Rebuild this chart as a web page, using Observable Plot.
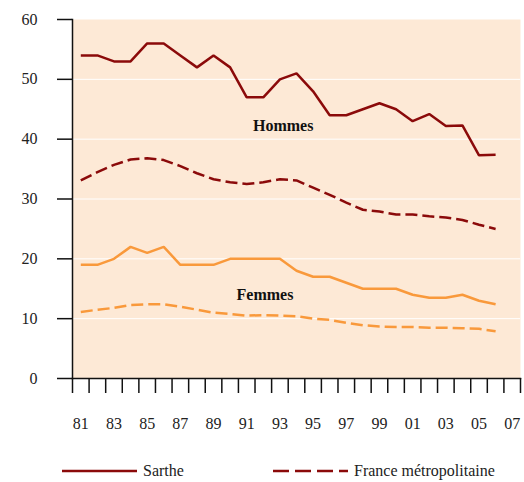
<!DOCTYPE html>
<html><head><meta charset="utf-8">
<script src="https://cdn.jsdelivr.net/npm/d3@7"></script>
<script src="https://cdn.jsdelivr.net/npm/@observablehq/plot@0.6"></script>
<style>
body{margin:0;background:#fff;font-family:"Liberation Serif","Times New Roman",serif;}
#chart{width:524px;position:relative;}
#chart svg text{font-family:"Liberation Serif","Times New Roman",serif;}
#legend{position:relative;width:524px;height:42px;font-size:16px;color:#222;}
#legend .item{position:absolute;top:21px;display:flex;align-items:center;height:20px;}
#legend svg{display:block;margin-right:6px;}
</style></head><body>
<div id="chart"></div>
<div id="legend"></div>
<script>
const years = [1981,1982,1983,1984,1985,1986,1987,1988,1989,1990,1991,1992,1993,1994,1995,1996,1997,1998,1999,2000,2001,2002,2003,2004,2005,2006];
const sartheHommes = [54,54,53,53,56,56,54,52,54,52,47,47,50,51,48,44,44,45,46,45,43,44.2,42.2,42.3,37.3,37.4];
const franceHommes = [33.1,34.5,35.7,36.6,36.8,36.5,35.5,34.3,33.3,32.8,32.5,32.8,33.3,33.1,31.9,30.7,29.4,28.2,27.9,27.4,27.4,27.1,26.9,26.5,25.7,25.0];
const sartheFemmes = [19,19,20,22,21,22,19,19,19,20,20,20,20,18,17,17,16,15,15,15,14,13.5,13.5,14,13,12.4];
const franceFemmes = [11.1,11.5,11.8,12.3,12.4,12.4,12.0,11.5,11.0,10.8,10.5,10.6,10.5,10.4,10.0,9.8,9.3,8.9,8.7,8.6,8.6,8.5,8.5,8.4,8.3,7.9];
const yTicks = [0,10,20,30,40,50,60];
const gridValues = [10,20,30,40,50];
const xLabelYears = [1981,1983,1985,1987,1989,1991,1993,1995,1997,1999,2001,2003,2005,2007];
const xBoundaries = [1980.5,1981.5,1982.5,1983.5,1984.5,1985.5,1986.5,1987.5,1988.5,1989.5,1990.5,1991.5,1992.5,1993.5,1994.5,1995.5,1996.5,1997.5,1998.5,1999.5,2000.5,2001.5,2002.5,2003.5,2004.5,2005.5,2006.5,2007.5];
const annotations = [{label:"Hommes", year:1993.2, value:42.3},{label:"Femmes", year:1992.1, value:14.0}];
const seriesNames = ["Sarthe","France métropolitaine"];

const FONT = '"Liberation Serif", serif';
const DARK = "#8b0a0a", ORANGE = "#f9993b";
const DASH = "12,5";
const rows = (vals) => years.map((y,i)=>({year:y, value:vals[i]}));
const series = [
  {data:rows(sartheHommes), color:DARK, dash:null},
  {data:rows(franceHommes), color:DARK, dash:DASH},
  {data:rows(sartheFemmes), color:ORANGE, dash:null},
  {data:rows(franceFemmes), color:ORANGE, dash:DASH}
];

const chart = Plot.plot({
  width:524, height:440,
  marginLeft:72, marginRight:4, marginTop:19, marginBottom:62,
  style:{fontFamily:FONT, fontSize:"16px", color:"#222", background:"transparent"},
  x:{domain:[1980.5,2007.5], axis:null},
  y:{domain:[0,60], axis:null},
  marks:[
    Plot.frame({fill:"#fde9d6", stroke:null}),
    Plot.gridY(gridValues, {stroke:"white", strokeOpacity:1, strokeWidth:1}),
    ...series.map(s => Plot.line(s.data, {x:"year", y:"value", stroke:s.color, strokeWidth:2.5, strokeDasharray:s.dash, strokeLinejoin:"miter", strokeLinecap:"butt"})),
    Plot.text(annotations, {x:"year", y:"value", text:"label", fontWeight:"bold", fontSize:16, fontFamily:FONT, fill:"#111"}),
    Plot.frame({anchor:"left", stroke:"#111", strokeWidth:1.5}),
    Plot.frame({anchor:"bottom", stroke:"#111", strokeWidth:1.5}),
    Plot.axisY({ticks:yTicks, tickSize:15, tickPadding:20, stroke:"#111", strokeWidth:1.5, fontSize:16, fontFamily:FONT, label:null}),
    Plot.axisX({ticks:xBoundaries, tickSize:15, tickFormat:()=>"", stroke:"#111", strokeWidth:1.5, label:null}),
    Plot.axisX({ticks:xLabelYears, tickSize:0, tickPadding:39, tickFormat:d=>String(d%100).padStart(2,"0"), fontSize:16, fontFamily:FONT, label:null})
  ]
});
document.getElementById("chart").appendChild(chart);

const legend = document.getElementById("legend");
const items = [{name:seriesNames[0], dash:null, left:62, w:75},{name:seriesNames[1], dash:"16,6", left:273, w:75}];
for (const it of items) {
  const d = document.createElement("div");
  d.className="item"; d.style.left = it.left+"px";
  d.innerHTML = `<svg width="${it.w}" height="6"><line x1="0" x2="${it.w}" y1="3" y2="3" stroke="${DARK}" stroke-width="2.5" ${it.dash?`stroke-dasharray="${it.dash}"`:""}/></svg><span>${it.name}</span>`;
  legend.appendChild(d);
}
</script>
</body></html>
